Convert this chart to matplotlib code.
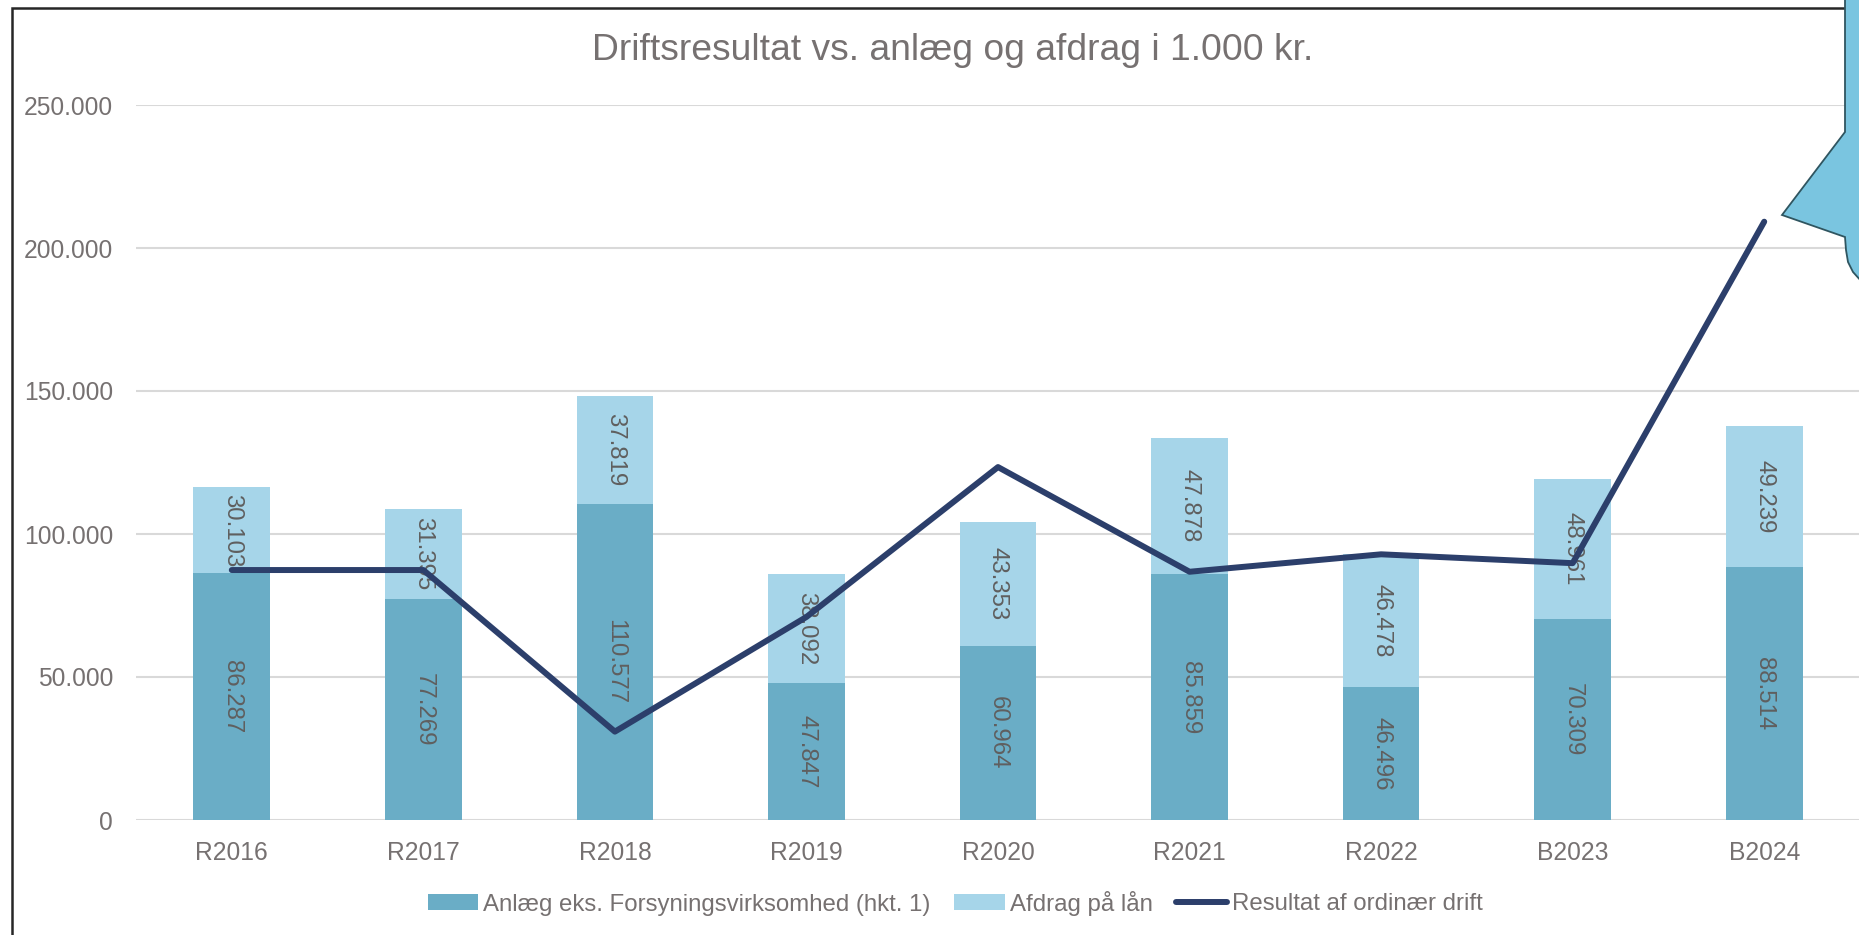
import matplotlib
matplotlib.use("Agg")
import matplotlib.pyplot as plt
from matplotlib.patches import Rectangle, Polygon
from matplotlib.ticker import FuncFormatter
import numpy as np

plt.rcParams['font.family'] = ['Liberation Sans', 'DejaVu Sans']

# data (i 1.000 kr.)
categories = ['R2016', 'R2017', 'R2018', 'R2019', 'R2020', 'R2021', 'R2022', 'B2023', 'B2024']
anlaeg = [86287, 77269, 110577, 47847, 60964, 85859, 46496, 70309, 88514]
afdrag = [30103, 31395, 37819, 38092, 43353, 47878, 46478, 48961, 49239]
resultat = [87400, 87400, 30900, 71000, 123400, 86800, 92900, 89800, 209200]
yticks = [0, 50000, 100000, 150000, 200000, 250000]

c_anlaeg = '#6AADC6'
c_afdrag = '#A6D5E9'
c_line = '#2C3F6B'
c_text = '#767171'
c_label = '#5F5F5F'

W, H = 1859, 935
fig = plt.figure(figsize=(W / 100, H / 100), dpi=100)
ax = fig.add_axes([136 / W, 1 - 820 / H, (1860 - 136) / W, 715 / H])

x = np.arange(len(categories))
b1 = ax.bar(x, anlaeg, width=0.4, color=c_anlaeg, zorder=2,
            label='Anlæg eks. Forsyningsvirksomhed (hkt. 1)')
b2 = ax.bar(x, afdrag, width=0.4, bottom=anlaeg, color=c_afdrag, zorder=2,
            label='Afdrag på lån')

fmt = lambda v: f"{int(v):,}".replace(',', '.')
for i in range(len(categories)):
    ax.text(x[i], anlaeg[i] / 2, fmt(anlaeg[i]), rotation=270, ha='center', va='center',
            fontsize=17.3, color=c_label, zorder=3)
    ax.text(x[i], anlaeg[i] + afdrag[i] / 2, fmt(afdrag[i]), rotation=270, ha='center',
            va='center', fontsize=17.3, color=c_label, zorder=3)

ln, = ax.plot(x, resultat, color=c_line, lw=4.3, solid_capstyle='round', solid_joinstyle='round',
              zorder=4, label='Resultat af ordinær drift')

ax.set_xlim(-0.5, len(categories) - 0.5)
ax.set_ylim(0, 250000)
ax.set_yticks(yticks)
ax.yaxis.set_major_formatter(FuncFormatter(lambda v, p: fmt(v)))
ax.set_xticks(x)
ax.set_xticklabels(categories)
ax.tick_params(axis='both', length=0, labelsize=17.7, colors=c_text)
ax.tick_params(axis='y', pad=16.5)
ax.tick_params(axis='x', pad=15)
ax.grid(axis='y', color='#D9D9D9', lw=1.5, zorder=0)
ax.set_axisbelow(True)
for s in ax.spines.values():
    s.set_visible(False)

fig.text(953 / W, 1 - 50 / H, 'Driftsresultat vs. anlæg og afdrag i 1.000 kr.',
         ha='center', va='center', fontsize=26.8, color=c_text)

leg = fig.legend([b1, b2, ln], [b1.get_label(), b2.get_label(), ln.get_label()],
                 loc='center', bbox_to_anchor=(955 / W, 1 - 903 / H),
                 ncol=3, frameon=False, fontsize=17.3, handlelength=2.1, handleheight=0.6,
                 handletextpad=0.2, columnspacing=1.0, labelcolor=c_text)

# chart frame
fig.patches.append(Rectangle((12 / W, -0.05), 1.2, 1 - 8 / H + 0.05, transform=fig.transFigure,
                             fill=False, ec='#262626', lw=1.8, zorder=5))

# callout cut off at the right edge
pts = [(1845, -5), (1845, 132), (1782, 215), (1845, 237), (1846, 250), (1848, 262),
       (1853, 272), (1862, 282), (1870, 282), (1870, -5)]
pts = [(px / W, 1 - py / H) for px, py in pts]
fig.patches.append(Polygon(pts, closed=True, transform=fig.transFigure,
                           fc='#7AC5E0', ec='#2F5560', lw=1.3, zorder=6))

fig.savefig('out.png', dpi=100)
